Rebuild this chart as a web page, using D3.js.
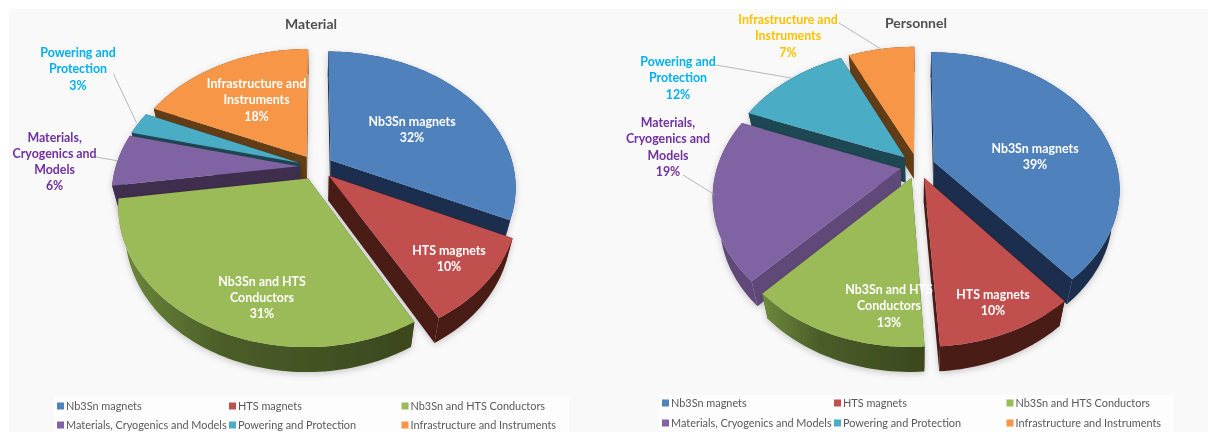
<!DOCTYPE html>
<html><head><meta charset="utf-8">
<script src="https://cdn.jsdelivr.net/npm/d3@7/dist/d3.min.js"></script>
<style>html,body{margin:0;padding:0;background:#fff}svg{display:block}</style>
</head><body><svg id="c" width="1208" height="432"></svg>
<script>
// ---- data ----
const categories = ["Nb3Sn magnets","HTS magnets","Nb3Sn and HTS Conductors","Materials, Cryogenics and Models","Powering and Protection","Infrastructure and Instruments"];
const materialValues = [32,10,30.7,6.2,2.7,18.4];
const personnelValues = [39,10,13,19,12,7];
const sliceColors = ["#4f81bd","#c0504d","#9bbb59","#8064a2","#4bacc6","#f79646"];
const materialSides = ["#1b2f4d","#4a1b19","#3f4c20","#3f2d50","#1c4653","#643d14"];
const personnelSides = ["#1b2f4d","#4a1b19","#3f4c20","#614a78","#1c4653","#643d14"];
const labelLines = {
  0:["Nb3Sn magnets"],1:["HTS magnets"],2:["Nb3Sn and HTS","Conductors"],
  3:["Materials,","Cryogenics and","Models"],4:["Powering and","Protection"],5:["Infrastructure and","Instruments"]
};
// ---- layout ----
const svg = d3.select("#c");
const defs = svg.append("defs");
const shadow = defs.append("filter").attr("id","soft").attr("x","-10%").attr("y","-10%").attr("width","120%").attr("height","125%");
shadow.append("feDropShadow").attr("dx",0).attr("dy",2).attr("stdDeviation",3).attr("flood-color","#000").attr("flood-opacity",.2);
defs.append("filter").attr("id","photo").attr("x",0).attr("y",0).attr("width","100%").attr("height","100%")
  .append("feGaussianBlur").attr("stdDeviation",.45);
const charts = [
 {title:"Material",values:materialValues,sides:materialSides,cx:316,cy:167,titleX:311,titleY:29,
  panel:[9,9,595,423],legend:[54,397,515,35],legendX:[57,229,401.5],legendY:[406,425],
  labels:[{x:412,y:[121,137],c:"#fff"},{x:449,y:[250,266],c:"#fff"},{x:262,y:[281,297,313],c:"#fff"},
          {x:54.6,y:[137,153,169,185],c:"#7030a0",line:[96,157,117,160.7]},
          {x:78,y:[52,68,85],c:"#00b0f0",line:[113.5,74,136.5,122.7]},
          {x:256.5,y:[83,99,116],c:"#fff"}]},
 {title:"Personnel",values:personnelValues,sides:personnelSides,cx:917.5,cy:166,titleX:916,titleY:28,
  panel:[604,9,604,423],legend:[659,395,515,37],legendX:[662,834,1006.5],legendY:[403,423],
  labels:[{x:1035,y:[148,164],c:"#fff"},{x:993,y:[294,310],c:"#fff"},{x:889,y:[289,305,322],c:"#fff"},
          {x:668,y:[122,138,155,171],c:"#7030a0",line:[683,175,715,195]},
          {x:678,y:[61,77,94],c:"#00b0f0",line:[716,65,791,78]},
          {x:788,y:[19,35,52],c:"#ffc000",line:[839,23,881,49]}]}
];
const R=183,K=0.72,P=0.19,EXPLODE=0.095,DEPTH=25,SHRINK=0.035;
const color = d3.scaleOrdinal(categories, sliceColors);
const pie = d3.pie().sort(null);
const pathLine = d3.line();
const LABEL_FONT = "Lato, 'Open Sans', sans-serif";
const LEGEND_FONT = "Lato, 'Open Sans', sans-serif";
const root = svg.append("g").attr("filter","url(#photo)");

charts.forEach((ch,ci)=>{
  const g = root.append("g");
  g.append("rect").attr("x",ch.panel[0]).attr("y",ch.panel[1]).attr("width",ch.panel[2]).attr("height",ch.panel[3]).attr("fill","#f9f9f9");
  g.append("rect").attr("x",ch.legend[0]).attr("y",ch.legend[1]).attr("width",ch.legend[2]).attr("height",ch.legend[3]).attr("fill","#fdfdfd");
  const slices = pie(ch.values).map((d,i)=>{
    const mid=(d.startAngle+d.endAngle)/2;
    const ox=EXPLODE*Math.sin(mid), oy=-EXPLODE*Math.cos(mid);
    const proj=(a,r,z)=>{
      const x=ox+r*Math.sin(a), y=oy-r*Math.cos(a), w=1-P*y;
      const t=1-z*SHRINK;
      return [ch.cx+R*x/w*t, ch.cy+R*K*y/w+z*DEPTH];
    };
    const n=Math.max(6,Math.ceil((d.endAngle-d.startAngle)*40));
    const arc=z=>d3.range(n+1).map(j=>proj(d.startAngle+(d.endAngle-d.startAngle)*j/n,1,z));
    return {i,mid,d,proj,arc,sortY:proj(mid,.7,0)[1]};
  }).sort((a,b)=>a.sortY-b.sortY);

  slices.forEach(s=>{
    const side=ch.sides[s.i], sg=g.append("g").attr("filter","url(#soft)");
    const wall=a=>[s.proj(a,0,0),s.proj(a,1,0),s.proj(a,1,1),s.proj(a,0,1)];
    [s.d.startAngle,s.d.endAngle].forEach(a=>sg.append("path").attr("d",pathLine(wall(a))+"Z").attr("fill",side));
    const top=s.arc(0), bot=s.arc(1);
    const xs=top.map(p=>p[0]);
    let fill=side;
    if(s.i===2){
      const id="rim"+ci;
      const lg=defs.append("linearGradient").attr("id",id).attr("gradientUnits","userSpaceOnUse")
        .attr("x1",d3.min(xs)).attr("x2",d3.max(xs)).attr("y1",0).attr("y2",0);
      lg.append("stop").attr("offset",0).attr("stop-color","#6d8a3c");
      lg.append("stop").attr("offset",.35).attr("stop-color","#4b5d28");
      lg.append("stop").attr("offset",1).attr("stop-color","#3b481e");
      fill=`url(#${id})`;
    }
    sg.append("path").attr("d",pathLine(top.concat(bot.slice().reverse()))+"Z").attr("fill",fill);
    sg.append("path").attr("d",pathLine([s.proj(s.d.startAngle,0,0)].concat(top))+"Z").attr("fill",color(categories[s.i]));
  });

  g.append("text").attr("x",ch.titleX).attr("y",ch.titleY).attr("text-anchor","middle")
    .attr("font-family",LABEL_FONT).attr("font-weight",700).attr("font-size",14).attr("fill","#4f4f4f").text(ch.title);

  ch.labels.forEach((l,i)=>{
    if(l.line) g.append("line").attr("x1",l.line[0]).attr("y1",l.line[1]).attr("x2",l.line[2]).attr("y2",l.line[3]).attr("stroke","#a6a6a6").attr("stroke-width",.8);
    const rows=labelLines[i].concat(Math.round(ch.values[i])+"%");
    rows.forEach((t,k)=>g.append("text").attr("x",l.x).attr("y",l.y[k]+4.5).attr("text-anchor","middle")
      .attr("font-family",LABEL_FONT).attr("font-weight",700).attr("font-size",12.4).attr("fill",l.c).text(t));
  });

  categories.forEach((c,i)=>{
    const col=i%3,row=Math.floor(i/3),x=ch.legendX[col],y=ch.legendY[row];
    g.append("rect").attr("x",x).attr("y",y-3.5).attr("width",7).attr("height",7).attr("fill",color(c));
    g.append("text").attr("x",x+9).attr("y",y+4).attr("font-family",LEGEND_FONT).attr("font-size",10.9).attr("fill","#595959").text(c);
  });
});
</script></body></html>
